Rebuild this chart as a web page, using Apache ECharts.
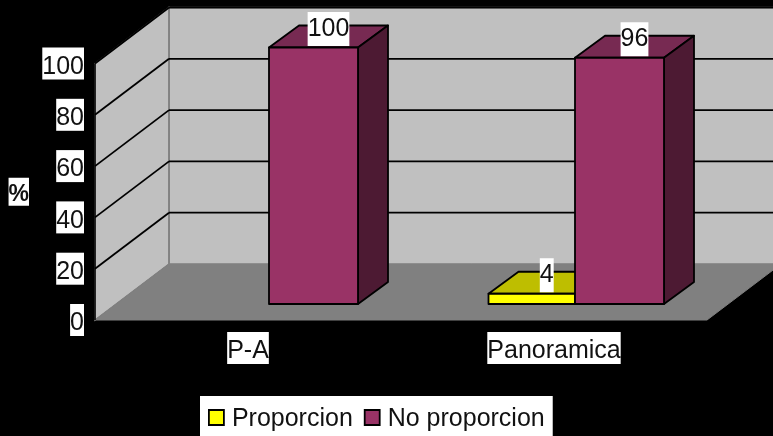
<!DOCTYPE html>
<html><head><meta charset="utf-8">
<style>html,body{margin:0;padding:0;background:#000}#c{width:773px;height:436px}</style>
<script src="https://cdn.jsdelivr.net/npm/echarts@6/dist/echarts.min.js"></script>
</head><body><div id="c"></div>
<script>
const categories = ['P-A', 'Panoramica'];
const proporcion = [null, 4];
const noProporcion = [100, 96];
const yTicks = [20, 40, 60, 80, 100];
const seriesNames = ['Proporcion', 'No proporcion'];

const FONT = '"Liberation Sans", Arial, sans-serif';
const WALL_DX = 74, WALL_DY = 56;       // depth of the 3D box
const BAR_DX = 30, BAR_DY = 22;         // depth of each bar
const BAR_OFF_X = 21, BAR_OFF_Y = 16;   // bar front set back from front plane
const chart = echarts.init(document.getElementById('c'), null, {renderer: 'canvas'});

function wallsItem(params, api) {
  const g = params.coordSys;
  const x0 = g.x, x1 = g.x + g.width, yb = g.y + g.height, yt = g.y;
  const dx = WALL_DX, dy = WALL_DY;
  const edge = {stroke: '#808080', lineWidth: 1.5};
  return {type: 'group', children: [
    {type: 'polygon', shape: {points: [[x0 + dx, yb - dy], [x1 + dx, yb - dy], [x1 + dx, yt - dy], [x0 + dx, yt - dy]]},
      style: {fill: '#C0C0C0', stroke: '#909090', lineWidth: 1.5}},
    {type: 'polygon', shape: {points: [[x0, yb], [x0 + dx, yb - dy], [x0 + dx, yt - dy], [x0, yt]]},
      style: {fill: '#C0C0C0', stroke: '#808080', lineWidth: 1.5}},
    {type: 'polygon', shape: {points: [[x0, yb], [x1, yb], [x1 + dx, yb - dy], [x0 + dx, yb - dy]]},
      style: {fill: '#808080', stroke: '#808080', lineWidth: 1}},
    {type: 'line', shape: {x1: x0, y1: yb, x2: x0, y2: yt}, style: {stroke: '#000', lineWidth: 1.5}},
    {type: 'line', shape: {x1: x0 + dx, y1: yb - dy, x2: x0 + dx, y2: yt - dy}, style: edge}
  ]};
}

function gridItem(params, api) {
  const g = params.coordSys;
  const y = api.coord([0, api.value(1)])[1];
  const x0 = g.x, x1 = g.x + g.width;
  const st = {stroke: '#000', lineWidth: 1.8};
  return {type: 'group', children: [
    {type: 'line', shape: {x1: x0, y1: y, x2: x0 + WALL_DX, y2: y - WALL_DY}, style: st},
    {type: 'line', shape: {x1: x0 + WALL_DX, y1: y - WALL_DY, x2: x1 + WALL_DX, y2: y - WALL_DY}, style: st}
  ]};
}

function barRenderer(front, top, side, leftOfCenter, frac) {
  return function (params, api) {
    const cat = api.value(0), val = api.value(1);
    const p0 = api.coord([cat, 0]), p1 = api.coord([cat, val]);
    const w = api.size([1, 0])[0] * frac;
    const xl = p0[0] + BAR_OFF_X - (leftOfCenter ? w : 0), xr = xl + w;
    const yb = p0[1] - BAR_OFF_Y, yt = p1[1] - BAR_OFF_Y;
    const s = {stroke: '#000', lineWidth: 1.8, lineJoin: 'round'};
    return {type: 'group', children: [
      {type: 'polygon', shape: {points: [[xl, yt], [xr, yt], [xr + BAR_DX, yt - BAR_DY], [xl + BAR_DX, yt - BAR_DY]]},
        style: Object.assign({fill: top}, s)},
      {type: 'polygon', shape: {points: [[xr, yb], [xr + BAR_DX, yb - BAR_DY], [xr + BAR_DX, yt - BAR_DY], [xr, yt]]},
        style: Object.assign({fill: side}, s)},
      {type: 'rect', shape: {x: xl, y: yt, width: w, height: yb - yt},
        style: Object.assign({fill: front}, s)},
      {type: 'text', z2: 50, style: {
        text: String(val), x: (xl + xr) / 2 + BAR_DX / 2, y: yt - 21 + 2.5, align: 'center', verticalAlign: 'middle',
        fontFamily: FONT, fontSize: 25, lineHeight: 29, padding: [5, 0, 0, 0], fill: '#111', backgroundColor: '#fff'}}
    ]};
  };
}

const toPairs = arr => arr.map((v, i) => [i, v]).filter(d => d[1] !== null);

chart.setOption({
  animation: false,
  backgroundColor: '#000',
  grid: {left: 95, right: 66, top: 63.5, bottom: 116},
  legend: {
    left: 200, top: 396, backgroundColor: '#fff', borderRadius: 0,
    padding: [7.5, 8, 4.5, 8], itemGap: 11, itemWidth: 15, itemHeight: 15, selectedMode: false,
    formatter: '{t|{name}}',
    textStyle: {rich: {t: {fontFamily: FONT, fontSize: 25, color: '#111', padding: [3, 0, 0, 3], lineHeight: 25}}},
    data: [
      {name: seriesNames[0], icon: 'rect', itemStyle: {color: '#FFFF00', borderColor: '#000', borderWidth: 1.8}},
      {name: seriesNames[1], icon: 'rect', itemStyle: {color: '#993366', borderColor: '#000', borderWidth: 1.8}}
    ]
  },
  xAxis: {
    type: 'category', data: categories,
    axisLine: {show: false}, axisTick: {show: false},
    axisLabel: {fontFamily: FONT, fontSize: 25, lineHeight: 26, padding: [6, 0, 0, 0], color: '#111', backgroundColor: '#fff', margin: 12, interval: 0}
  },
  yAxis: {
    type: 'value', min: 0, max: 100, interval: 20,
    axisLine: {show: false}, axisTick: {show: false}, splitLine: {show: false},
    axisLabel: {
      margin: 11, formatter: '{t|{value}}',
      rich: {t: {fontFamily: FONT, fontSize: 25, lineHeight: 25, padding: [7, 0, 0, 0], color: '#111', backgroundColor: '#fff'}}
    },
    name: '{p|%}', nameLocation: 'middle', nameGap: 66, nameRotate: 0,
    nameTextStyle: {rich: {p: {fontFamily: FONT, fontSize: 23, fontWeight: 'bold', lineHeight: 29, padding: [5, 0, 0, 0], color: '#111', backgroundColor: '#fff'}}}
  },
  series: [
    {type: 'custom', name: 'walls', silent: true, clip: false, z: 1, renderItem: wallsItem,
      data: [[0, 0]], encode: {x: 0, y: 1}},
    {type: 'custom', name: 'grid', silent: true, clip: false, z: 2, renderItem: gridItem,
      data: yTicks.map(v => [0, v]), encode: {x: 0, y: 1}},
    {type: 'custom', name: seriesNames[0], clip: false, z: 3, renderItem: barRenderer('#FFFF00', '#BEBE00', '#808000', true, 86.5 / 306),
      data: toPairs(proporcion), encode: {x: 0, y: 1}},
    {type: 'custom', name: seriesNames[1], clip: false, z: 4, renderItem: barRenderer('#993366', '#772A52', '#4D1A33', false, 89 / 306),
      data: toPairs(noProporcion), encode: {x: 0, y: 1}}
  ]
});
</script></body></html>
